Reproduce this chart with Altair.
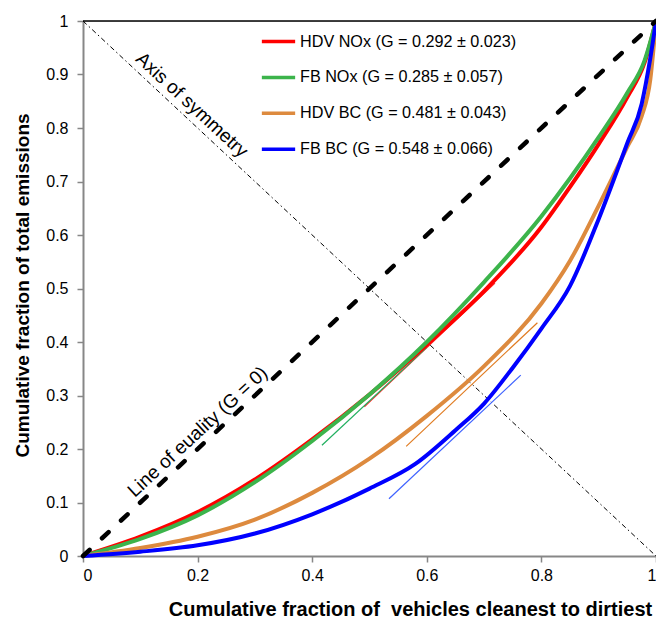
import altair as alt
import pandas as pd

FONT = "Liberation Sans"

series = [
    "HDV NOx (G = 0.292 ± 0.023)",
    "FB NOx (G = 0.285 ± 0.057)",
    "HDV BC (G = 0.481 ± 0.043)",
    "FB BC (G = 0.548 ± 0.066)",
]
colors = ["#ff0000", "#3cb44b", "#dd8a3e", "#0000ff"]

hdv_nox_x = [0, 0.1, 0.2, 0.3, 0.4, 0.5, 0.6, 0.7, 0.8, 0.85, 0.9, 0.95, 0.98, 1]
hdv_nox_y = [0, 0.036, 0.082, 0.143, 0.218, 0.302, 0.395, 0.495, 0.615, 0.69, 0.77, 0.858, 0.922, 1]

fb_nox_x = [0, 0.1, 0.2, 0.3, 0.4, 0.5, 0.6, 0.7, 0.8, 0.85, 0.9, 0.95, 0.98, 1]
fb_nox_y = [0, 0.032, 0.076, 0.138, 0.215, 0.302, 0.40, 0.512, 0.635, 0.706, 0.783, 0.866, 0.926, 1]

hdv_bc_x = [0, 0.1, 0.2, 0.3, 0.4, 0.5, 0.6, 0.7, 0.8, 0.85, 0.9, 0.95, 0.975, 0.99, 1]
hdv_bc_y = [0, 0.015, 0.036, 0.068, 0.118, 0.182, 0.262, 0.355, 0.472, 0.552, 0.655, 0.765, 0.822, 0.89, 1]

fb_bc_x = [0, 0.1, 0.2, 0.3, 0.4, 0.5, 0.58, 0.65, 0.7, 0.75, 0.8, 0.85, 0.9, 0.95, 0.975, 0.99, 1]
fb_bc_y = [0, 0.008, 0.02, 0.042, 0.078, 0.126, 0.172, 0.235, 0.285, 0.352, 0.425, 0.505, 0.63, 0.772, 0.845, 0.93, 1]

# thin tangent lines (start/end) per series
tan_x1 = [0.491, 0.417, 0.564, 0.534]
tan_y1 = [0.279, 0.207, 0.205, 0.107]
tan_x2 = [0.719, 0.600, 0.793, 0.764]
tan_y2 = [0.510, 0.390, 0.436, 0.338]
tan_colors = ["#ff2a2a", "#22b060", "#e07b20", "#3f63ff"]

x_ticks = [0, 0.2, 0.4, 0.6, 0.8, 1]
y_ticks = [0, 0.1, 0.2, 0.3, 0.4, 0.5, 0.6, 0.7, 0.8, 0.9, 1]

curves = pd.concat([
    pd.DataFrame({"x": xs, "y": ys, "series": s, "i": range(len(xs))})
    for s, xs, ys in [
        (series[0], hdv_nox_x, hdv_nox_y),
        (series[1], fb_nox_x, fb_nox_y),
        (series[2], hdv_bc_x, hdv_bc_y),
        (series[3], fb_bc_x, fb_bc_y),
    ]
])

tangents = pd.DataFrame({"x": tan_x1, "y": tan_y1, "x2": tan_x2, "y2": tan_y2, "c": tan_colors})

equality = pd.DataFrame({"x": [0, 1], "y": [0, 1]})
symmetry = pd.DataFrame({"x": [0, 1], "y": [1, 0]})
labels = pd.DataFrame({
    "x": [0.190, 0.200],
    "y": [0.843, 0.232],
    "t": ["Axis of symmetry", "Line of euality (G = 0)"],
})

xs = alt.Scale(domain=[0, 1], nice=False, zero=False)
ys = alt.Scale(domain=[0, 1], nice=False, zero=False)

x_axis = alt.Axis(
    values=x_ticks, format="~g", title="Cumulative fraction of \u00a0vehicles cleanest to dirtiest",
    titleX=327, titleY=59, titleAlign="center", titleBaseline="alphabetic",
    grid=False, domainColor="#878787", domainWidth=2, tickColor="#878787", tickWidth=1.5,
    tickSize=6, labelFontSize=16, labelColor="#000000", labelFont=FONT, labelPadding=5,
    titleFont=FONT, titleFontSize=20, titleFontWeight="bold", titleColor="#000000",
)
y_axis = alt.Axis(
    values=y_ticks, format="~g", title="Cumulative fraction of total emissions",
    titleX=-61, titleY=264, titleAlign="center", titleBaseline="middle", titleAngle=270,
    grid=False, domainColor="#878787", domainWidth=2, tickColor="#878787", tickWidth=1.5,
    tickSize=6, labelFontSize=16, labelColor="#000000", labelFont=FONT, labelPadding=9,
    titleFont=FONT, titleFontSize=19, titleFontWeight="bold", titleColor="#000000",
)

color = alt.Color(
    "series:N",
    scale=alt.Scale(domain=series, range=colors),
    sort=series,
    legend=alt.Legend(
        title=None, orient="none", legendX=177, legendY=2, symbolType="stroke",
        symbolSize=1109, symbolStrokeWidth=3.5, labelFontSize=16.2, labelFont=FONT,
        labelColor="#000000", rowPadding=8.9, labelOffset=3, padding=0, labelLimit=400,
    ),
)

top_border = alt.Chart(pd.DataFrame({"x": [0], "x2": [1], "y": [1]})).mark_rule(
    color="#000000", strokeWidth=1.5
).encode(x=alt.X("x:Q", scale=xs, axis=x_axis), x2="x2:Q", y=alt.Y("y:Q", scale=ys, axis=y_axis))

sym_line = alt.Chart(symmetry).mark_line(
    color="#000000", strokeWidth=1, strokeDash=[5, 3, 1.5, 3]
).encode(x=alt.X("x:Q", scale=xs), y=alt.Y("y:Q", scale=ys))

tan_layer = alt.Chart(tangents).mark_rule(strokeWidth=1.2).encode(
    x=alt.X("x:Q", scale=xs), y=alt.Y("y:Q", scale=ys), x2="x2:Q", y2="y2:Q",
    color=alt.Color("c:N", scale=None),
)

curve_layers = [
    alt.Chart(curves).transform_filter(alt.datum.series == s).mark_line(
        strokeWidth=4, interpolate="monotone"
    ).encode(
        x=alt.X("x:Q", scale=xs), y=alt.Y("y:Q", scale=ys), color=color, order="i:Q",
    )
    for s in series
]

eq_line = alt.Chart(equality).mark_line(
    color="#000000", strokeWidth=4.5, strokeDash=[9, 17], strokeCap="round"
).encode(x=alt.X("x:Q", scale=xs), y=alt.Y("y:Q", scale=ys))

text_sym = alt.Chart(labels.iloc[[0]]).mark_text(
    font=FONT, fontSize=19, angle=42.7, align="center", baseline="middle", color="#000000"
).encode(x=alt.X("x:Q", scale=xs), y=alt.Y("y:Q", scale=ys), text="t:N")

text_eq = alt.Chart(labels.iloc[[1]]).mark_text(
    font=FONT, fontSize=19, angle=317.3, align="center", baseline="middle", color="#000000"
).encode(x=alt.X("x:Q", scale=xs), y=alt.Y("y:Q", scale=ys), text="t:N")

chart = alt.layer(
    top_border, sym_line, tan_layer, *curve_layers, eq_line, text_sym, text_eq
).properties(
    width=573, height=535,
    autosize=alt.AutoSizeParams(type="none"),
    padding={"left": 75, "top": 13, "right": 0, "bottom": 65},
).configure_view(stroke=None).configure(background="#ffffff")

chart.save("out.html", embed_options={"renderer": "svg", "actions": False})
